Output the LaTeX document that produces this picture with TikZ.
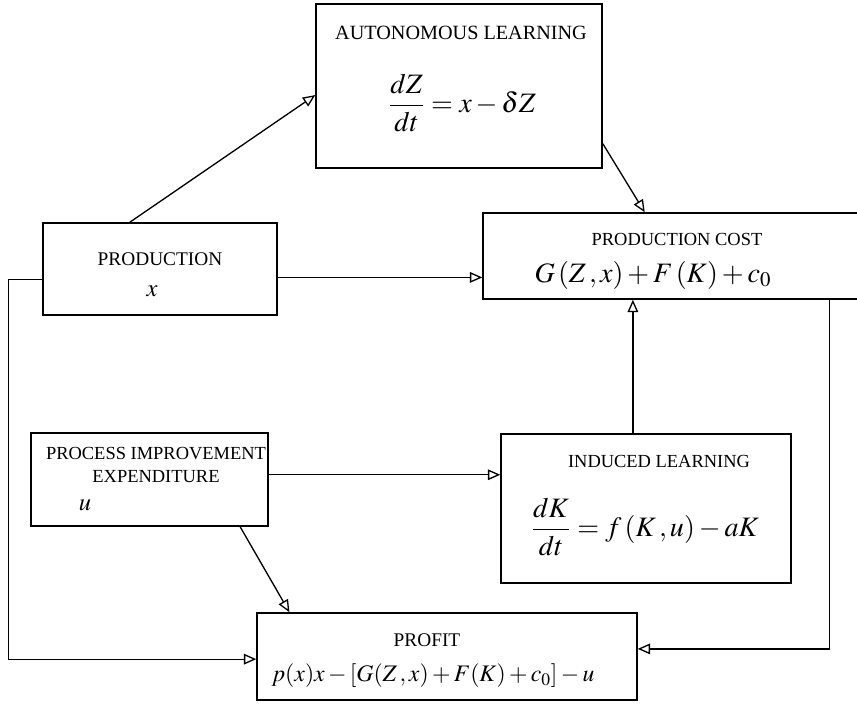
\documentclass[tikz,border=0pt]{standalone}
\usepackage{mathptmx}
\usepackage{fontspec}
\setmainfont{Liberation Serif}
\usepackage{tikz}
\usetikzlibrary{arrows.meta,calc}
\tikzset{>={Triangle[open,length=7pt,width=6pt]}}

\begin{document}
\begin{tikzpicture}[x=0.02cm, y=-0.02cm,
  blk/.style 2 args={draw, line width=0.9pt, minimum width=#1, minimum height=#2, inner sep=0pt},
  ttl/.style={font=\fontsize{10.5}{13.6}\selectfont, inner sep=0pt, align=center},
  eqn/.style={font=\fontsize{16}{19}\selectfont, inner sep=0pt},
  lnk/.style={->, line width=0.75pt}]
  \useasboundingbox (0,0) rectangle (857,703);

  % Boxes
  \node[blk={5.72cm}{3.28cm}] (al) at (459,86) {};
  \node[blk={7.8cm}{1.72cm}] (pc) at (678,256) {};
  \node[blk={4.68cm}{1.84cm}] (pr) at (160,269) {};
  \node[blk={4.74cm}{1.86cm}] (pie) at (149.5,479.5) {};
  \node[blk={5.8cm}{2.98cm}] (il) at (646,508.5) {};
  \node[blk={7.6cm}{1.74cm}] (pf) at (447,656.5) {};

  % Labels and equations
  \node[ttl, font=\fontsize{11.5}{14}\selectfont] (al-t) at (461,33) {AUTONOMOUS LEARNING};
  \node[eqn] (al-e) at (462,103) {$\displaystyle\frac{dZ}{dt}=x-\delta Z$};
  \node[ttl] (pc-t) at (677,239) {PRODUCTION COST};
  \node[eqn] (pc-e) at (653,275) {$G\,(Z\,,x)+F\,(K)+c_{0}$};
  \node[ttl, font=\fontsize{11}{13}\selectfont] (pr-t) at (160,259) {PRODUCTION};
  \node[eqn, font=\fontsize{14}{16}\selectfont] (pr-x) at (152,291) {$x$};
  \node[ttl] (pie-t) at (156,465) {PROCESS IMPROVEMENT\\EXPENDITURE};
  \node[eqn, font=\fontsize{14}{16}\selectfont] (pie-u) at (85,505) {$u$};
  \node[ttl] (il-t) at (659,461) {INDUCED LEARNING};
  \node[eqn] (il-e) at (645,527) {$\displaystyle\frac{dK}{dt}=f\,(K\,,u)-aK$};
  \node[ttl, font=\fontsize{11}{13}\selectfont] (pf-t) at (427,640) {PROFIT};
  \node[eqn, font=\fontsize{13.5}{16}\selectfont] (pf-e) at (433,676) {$p(x)x-[G(Z\,,x)+F(K)+c_{0}]-u$};

  % Links
  \draw[lnk] ($(pr.north west)!0.372!(pr.north east)$) -- ($(al.north west)!0.555!(al.south west)$);
  \draw[lnk] ($(al.north east)!0.848!(al.south east)$) -- ($(pc.north west)!0.415!(pc.north east)$);
  \draw[lnk] ($(pr.north east)!0.59!(pr.south east)$) coordinate (p1) -- (p1 -| pc.west);
  \draw[lnk] ($(pr.north west)!0.61!(pr.south west)$) -- ++(-34,0) |- ($(pf.north west)!0.53!(pf.south west)$);
  \draw[lnk] ($(pie.north east)!0.45!(pie.south east)$) coordinate (p2) -- (p2 -| il.west);
  \draw[lnk] ($(pie.south west)!0.88!(pie.south east)$) -- ($(pf.north west)!0.087!(pf.north east)$);
  \draw[lnk] ($(il.north west)!0.455!(il.north east)$) coordinate (p3) -- (p3 |- pc.south);
  \draw[lnk] ($(pc.south west)!0.887!(pc.south east)$) |- ($(pf.north east)!0.414!(pf.south east)$);
\end{tikzpicture}
\end{document}
